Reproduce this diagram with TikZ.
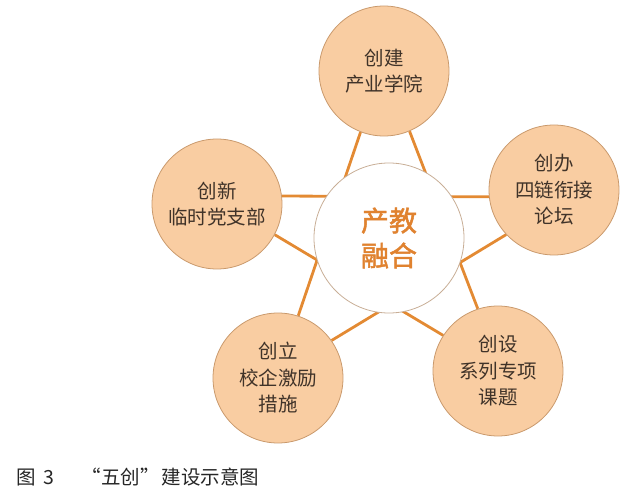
\documentclass[tikz,border=0pt]{standalone}
\usepackage{fontspec}
\newfontfamily\cjk{Noto Sans CJK SC}
\newfontfamily\cjkm[FakeBold=1.6]{Noto Sans CJK SC}
\usetikzlibrary{backgrounds}
\definecolor{peach}{HTML}{F9CDA2}
\definecolor{rimc}{HTML}{C9996C}
\definecolor{linec}{HTML}{E38A33}
\definecolor{txt}{HTML}{403329}
\definecolor{ctxt}{HTML}{E0822F}
\definecolor{crim}{HTML}{C8AE96}
\tikzset{
  outer/.style={circle, draw=rimc, line width=0.8pt, fill=peach, minimum size=130pt, inner sep=0pt,
    text=txt, font=\cjk\fontsize{19.5}{26.5}\selectfont, align=center},
  hub/.style={circle, draw=crim, line width=0.8pt, fill=white, minimum size=150pt, inner sep=0pt,
    text=ctxt, font=\cjkm\fontsize{28}{35}\selectfont, align=center},
  link/.style={draw=linec, line width=2.8pt},
  captext/.style={text=black!85, font=\cjk\fontsize{19.5}{22}\selectfont, anchor=west, inner sep=0pt}
}
\begin{document}
\begin{tikzpicture}[x=1pt,y=-1pt]
\useasboundingbox (0,0) rectangle (622,500);
\node[outer] (top) at (384,71) {创建\\产业学院};
\node[outer] (right) at (554,190) {创办\\四链衔接\\论坛};
\node[outer] (br) at (498,371) {创设\\系列专项\\课题};
\node[outer] (bl) at (278,378) {创立\\校企激励\\措施};
\node[outer] (left) at (217,204) {创新\\临时党支部};
\node[hub] (hub) at (389,238) {产教\\融合};
\begin{scope}[on background layer]
\draw[link] (top.249) -- (bl.72);
\draw[link] (top.293) -- (br.108);
\draw[link] (left.7) -- (right.186);
\draw[link] (left.332) -- (br.147);
\draw[link] (right.223) -- (bl.35);
\end{scope}
\node[captext] (caption) at (16,477) {图\hspace{8pt}3\hspace{27pt}“五创”\hspace{2pt}建设示意图};
\end{tikzpicture}
\end{document}
